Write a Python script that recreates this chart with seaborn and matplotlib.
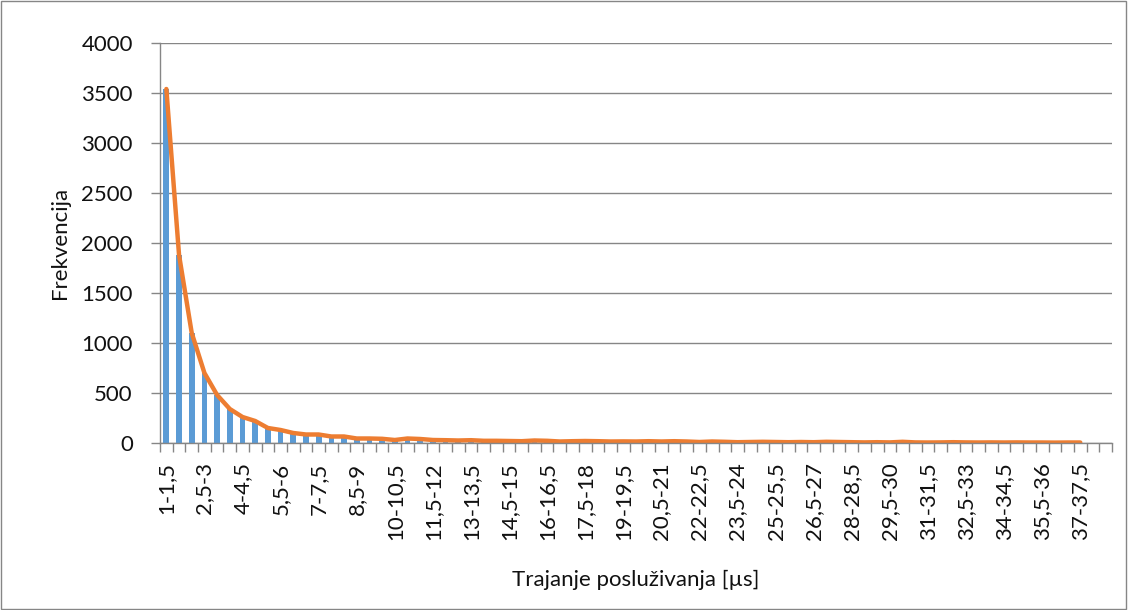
import numpy as np
import pandas as pd
import seaborn as sns
import matplotlib.pyplot as plt

# bin lower edges, 1 .. 37 step 0.5  (labels like "1-1,5")
lows = [1 + 0.5 * i for i in range(73)]


def fmt(v):
    s = f"{v:g}"
    return s.replace(".", ",")


bins = [f"{fmt(a)}-{fmt(a + 0.5)}" for a in lows]
extra_bins = ["37,5-38", "38-38,5"]  # empty categories at the end of the axis

freq = [3540, 1880, 1100, 700, 480, 340, 260, 220, 150, 130,
        100, 85, 85, 65, 65, 45, 45, 42, 30, 45,
        40, 30, 28, 25, 28, 22, 22, 20, 18, 25,
        22, 15, 18, 20, 18, 15, 16, 15, 18, 15,
        18, 15, 10, 15, 12, 8, 10, 12, 10, 8,
        10, 8, 12, 10, 8, 6, 8, 6, 12, 6,
        5, 6, 8, 6, 5, 6, 5, 6, 5, 5,
        4, 5, 5]

df = pd.DataFrame({"bin": bins, "freq": freq, "pos": np.arange(len(bins))})

sns.set_theme(style="white")
plt.rcParams["font.family"] = ["Lato", "DejaVu Sans"]

fig = plt.figure(figsize=(11.28, 6.1), dpi=100)
ax = fig.add_axes([160 / 1128, 1 - 443 / 610, (1112 - 160) / 1128, 400 / 610])

sns.barplot(data=df, x="bin", y="freq", order=bins + extra_bins,
            color="#5B9BD5", saturation=1, width=0.45, linewidth=0, ax=ax)
sns.lineplot(data=df, x="pos", y="freq", color="#ED7D31", linewidth=3.2,
             solid_joinstyle="round", solid_capstyle="round", ax=ax)

ax.set_xlim(-0.5, len(bins) + len(extra_bins) - 0.5)
ax.set_ylim(0, 4000)
ax.set_yticks(np.arange(0, 4001, 500))
ax.yaxis.grid(True, color="#868686", linewidth=1)
ax.set_axisbelow(True)

show = list(range(0, len(bins), 3))
ax.set_xticks(show)
ax.set_xticklabels([bins[i] for i in show], rotation=90, fontsize=16,
                   color="#111111")
ax.set_xticks(np.arange(-0.5, len(bins) + len(extra_bins), 1), minor=True)
ax.tick_params(axis="x", which="major", length=0, pad=14)
ax.tick_params(axis="x", which="minor", length=6.5, color="#868686", width=1,
               bottom=True)
ax.tick_params(axis="y", length=6.5, color="#868686", width=1, left=True,
               labelsize=16, pad=13, labelcolor="#111111")

for s in ["top", "right"]:
    ax.spines[s].set_visible(False)
for s in ["left", "bottom"]:
    ax.spines[s].set_color("#868686")
    ax.spines[s].set_linewidth(1)

ax.set_xlabel("Trajanje posluživanja [µs]", fontsize=16, labelpad=21,
              color="#111111")
ax.set_ylabel("Frekvencija", fontsize=16, labelpad=8, color="#111111")

# chart border
fig.patches.append(plt.Rectangle((0.001, 0.002), 0.997, 0.996,
                                 transform=fig.transFigure, fill=False,
                                 edgecolor="#868686", linewidth=1))

fig.savefig("out.png", dpi=100)
